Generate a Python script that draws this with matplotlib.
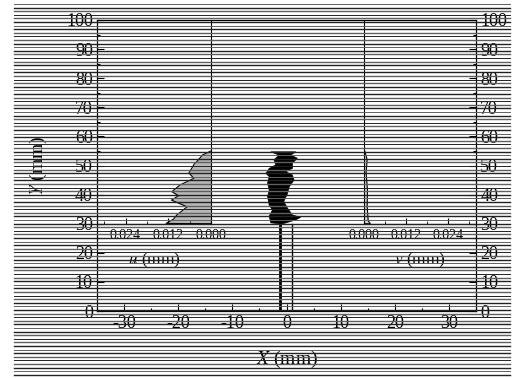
import numpy as np
import matplotlib
matplotlib.use("Agg")
import matplotlib.pyplot as plt
from matplotlib.lines import Line2D

plt.rcParams['font.family'] = ['Liberation Serif', 'DejaVu Serif']
plt.rcParams['mathtext.fontset'] = 'stix'
plt.rcParams['axes.unicode_minus'] = False

# horizontal displacement u (mm) along the height Y (mm)
u_y = [30.1, 31.6, 33.0, 35.8, 38.1, 39.6, 41.0, 43.3, 45.6, 47.4, 50.5, 52.0, 53.6, 55.0]
u_val = [0.0126, 0.0105, 0.0096, 0.0067, 0.0111, 0.0091, 0.0110, 0.0087, 0.0048, 0.0062, 0.0047, 0.0035, 0.0024, 0.0]

# vertical displacement v (mm) along the height Y (mm)
v_y = [30.0, 31.0, 36.0, 41.5, 47.5, 52.0, 55.0]
v_val = [0.0018, 0.0012, 0.0009, 0.0010, 0.0006, 0.0009, 0.0002]

# outline of the black deformed body (X, Y in mm)
left_x = [-2.9, -1.4, -2.3, -2.0, -3.2, -3.8, -3.2, -3.5, -3.2, -3.5, -3.2, -2.6, -3.2, -2.9]
left_y = [54.7, 53.6, 51.9, 50.2, 49.0, 47.3, 46.2, 43.9, 41.6, 39.3, 36.4, 34.7, 32.6, 30.3]
right_x = [1.7, 0.8, 2.0, 1.1, 1.1, -0.1, 1.1, 1.4, 0.5, 0.2, -0.5, 0.2, 1.1, 2.6, 1.7, -0.8]
right_y = [54.7, 53.6, 52.5, 50.8, 49.0, 47.9, 46.7, 45.0, 42.7, 40.4, 37.6, 35.3, 33.0, 32.2, 31.3, 29.9]

# two vertical lines below the body
post_x = [-1.2, 1.0]
post_w = [2.0, 1.0]
post_y = [0, 30]

W, H = 515, 378
fig = plt.figure(figsize=(W / 100, H / 100), dpi=100)

L, R = 97 / W, 476 / W
B, T = 1 - 311 / H, 1 - 20 / H
ax = fig.add_axes([L, B, R - L, T - B])
ax.set_facecolor('none')
ax.set_xlim(-35, 35)
ax.set_ylim(0, 100)
ax.set_xticks(np.arange(-30, 31, 10))
ax.set_xticks(np.arange(-35, 36, 5), minor=True)
ax.set_yticks(np.arange(0, 101, 10))
ax.set_yticks(np.arange(0, 101, 5), minor=True)
ax.tick_params(which='both', direction='in', left=True, right=True, top=False,
               labelright=True, labelsize=13, pad=3)
ax.tick_params(which='major', length=5, width=0.8)
ax.tick_params(which='minor', length=2.5, width=0.8)
for sp in ax.spines.values():
    sp.set_linewidth(0.9)
ax.set_xlabel('$X$ (mm)', fontsize=14, labelpad=12)
ax.set_ylabel('$Y$ (mm)', fontsize=14, labelpad=12)

poly_x = left_x + right_x[::-1]
poly_y = left_y + right_y[::-1]
ax.fill(poly_x, poly_y, color='black', lw=0.5)
for px, pw in zip(post_x, post_w):
    ax.plot([px, px], post_y, color='black', lw=pw)

# inset axes for u and v
ib = B + 0.30 * (T - B)
ax_u = fig.add_axes([L, ib, 211 / W - L, T - ib])
ax_v = fig.add_axes([364 / W, ib, R - 364 / W, T - ib])
for a in (ax_u, ax_v):
    a.set_facecolor('none')
    a.set_ylim(30, 100)
    a.set_yticks([])
    a.set_xticks([0, 0.012, 0.024])
    a.set_xticks([0.006, 0.018, 0.030], minor=True)
    a.xaxis.set_major_formatter(matplotlib.ticker.FormatStrFormatter('%.3f'))
    a.tick_params(which='both', direction='in', labelsize=10, pad=4)
    a.tick_params(which='major', length=4)
    a.tick_params(which='minor', length=2)
    a.spines['top'].set_visible(False)

ax_u.set_xlim(0.032, 0)
ax_u.spines['left'].set_visible(False)
ax_v.set_xlim(0, 0.032)
ax_v.spines['right'].set_visible(False)

ax_u.fill_betweenx([30] + u_y, 0, [0] + u_val, color='#b8b8b8', lw=0)
ax_u.plot([0] + u_val, [30] + u_y, color='black', lw=0.8)
ax_v.fill_betweenx([30] + v_y, 0, [0] + v_val, color='#d8d8d8', lw=0)
ax_v.plot([0] + v_val, [30] + v_y, color='black', lw=0.8)

ax_u.set_xlabel('$u$ (mm)', fontsize=12.5, labelpad=6)
ax_v.set_xlabel('$v$ (mm)', fontsize=12.5, labelpad=6)

# horizontal scan stripes over the whole picture
for i, yp in enumerate(np.arange(4, 376, 3.6)):
    fig.add_artist(Line2D([14 / W, 510 / W], [1 - yp / H] * 2, transform=fig.transFigure,
                          color='#222222' if i % 2 else '#606060',
                          lw=1.0 if i % 3 else 0.7, zorder=5))

fig.savefig('out.png', dpi=100)
